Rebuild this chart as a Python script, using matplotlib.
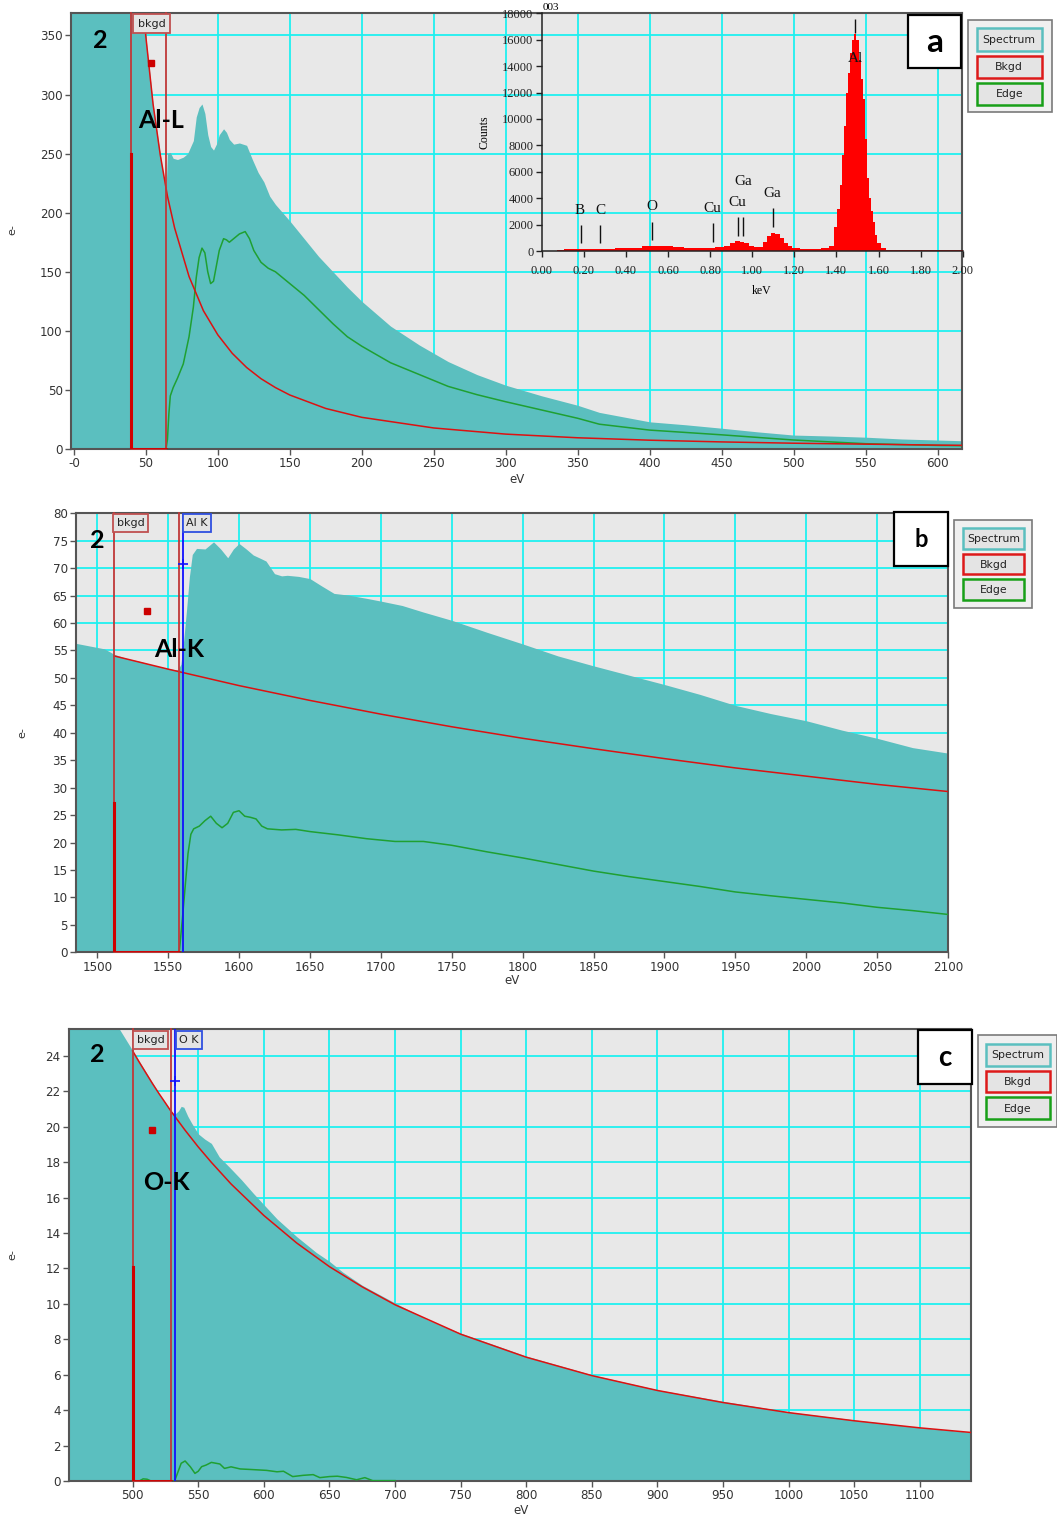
import matplotlib
matplotlib.use("Agg")
import matplotlib.pyplot as plt
from matplotlib.patches import Rectangle

W, H = 1057, 1519

TEAL = "#5bbfbf"
GRID = "#1ff0f0"
BG = "#e8e8e8"
RED = "#dd1111"
WIN_RED = "#c03838"
GREEN = "#1fa032"
BLUE = "#1010ff"

# ---- panel a : Al-L edge ----
A_EV = [-2, 39.5, 40, 45, 50, 55, 60, 64, 65, 67, 69, 72, 76, 79, 83, 85, 87, 89,
        91, 93, 95, 97, 99, 101, 104, 106, 108, 111, 115, 120, 124, 128, 132,
        136, 140, 150, 160, 170, 180, 190, 200, 220, 240, 260, 280, 300, 325,
        350, 365, 400, 425, 450, 475, 500, 525, 550, 575, 600, 617]
A_SPECTRUM = [1000, 1000, 526, 423, 349, 292, 249, 218, 250, 251, 246, 245, 247,
              250, 261, 281, 289, 292, 284, 266, 256, 253, 258, 266, 271, 268,
              262, 258, 259, 257, 245, 234, 226, 214, 207, 193, 178, 163, 150,
              137, 125, 104, 88, 74, 63, 54, 45, 37, 31, 23, 20.5, 17.6, 14.5,
              11.8, 11, 10, 8.5, 7.6, 7]
A_BKGD_EV = [40, 45, 50, 55, 60, 65, 70, 80, 90, 100, 110, 120, 130, 140, 150,
             175, 200, 250, 300, 350, 400, 450, 500, 550, 600, 617]
A_BKGD = [526, 423, 349, 292, 249, 214, 187, 146, 117, 96.6, 81, 69, 59.5, 52,
          45.7, 34.3, 26.8, 17.8, 12.6, 9.5, 7.45, 6.0, 4.9, 4.1, 3.3, 3.1]
A_EDGE_EV = [40, 64, 65, 66, 67, 69, 72, 76, 80, 83, 85, 87, 89, 91, 93, 95, 97,
             99, 101, 104, 106, 108, 111, 115, 119, 122, 125, 130, 135, 140, 150,
             160, 170, 180, 190, 200, 220, 240, 260, 280, 300, 325, 350, 365,
             400, 450, 500, 550, 600, 617]
A_EDGE = [0, 0, 8, 30, 45, 52, 60, 72, 95, 120, 145, 162, 170, 166, 150, 140,
          142, 155, 168, 178, 177, 175, 178, 182, 184, 178, 168, 158, 153, 150,
          140, 130, 118, 106, 95, 87, 73, 63, 53, 46, 40, 33, 26, 21, 16, 12,
          7.6, 4.5, 3, 2.8]
A_WINDOW = (40, 64)
A_WINDOW_MARK = 250
A_BKGD_POINT = (53.5, 327)

# ---- inset EDS spectrum ----
IN_KEV = [0.00, 0.05, 0.10, 0.11, 0.20, 0.30, 0.40, 0.45, 0.50, 0.55, 0.60,
          0.65, 0.70, 0.75, 0.80, 0.85, 0.88, 0.91, 0.93, 0.95, 0.97, 1.00,
          1.02, 1.04, 1.06, 1.08, 1.10, 1.12, 1.14, 1.16, 1.18, 1.20, 1.25,
          1.30, 1.35, 1.38, 1.40, 1.41, 1.42, 1.43, 1.44, 1.45, 1.46, 1.47,
          1.48, 1.49, 1.50, 1.51, 1.52, 1.53, 1.54, 1.55, 1.56, 1.57, 1.58,
          1.59, 1.60, 1.62, 1.65, 1.70, 1.80, 1.90, 2.00]
IN_COUNTS = [30, 30, 40, 120, 150, 170, 200, 260, 370, 390, 350, 290, 260, 240,
             250, 290, 380, 600, 730, 700, 620, 400, 330, 330, 700, 1150, 1390,
             1250, 950, 600, 350, 230, 180, 160, 200, 350, 1800, 3200, 5000,
             7300, 9500, 12000, 13500, 15000, 16000, 16450, 16000, 14500,
             13000, 11500, 8500, 5500, 4000, 3000, 2200, 1200, 600, 200, 100,
             70, 60, 55, 50]
IN_LINES_KEV = [0.185, 0.277, 0.526, 0.812, 0.931, 0.958, 1.10, 1.489]
IN_LINES_LOW = [580, 580, 830, 700, 1140, 1140, 1840, 16485]
IN_LINES_HIGH = [1970, 1970, 2220, 2100, 2600, 2600, 3230, 17600]
IN_LABELS = ["B", "C", "O", "Cu", "Cu", "Ga", "Ga", "Al"]
IN_LABEL_KEV = [0.182, 0.277, 0.522, 0.81, 0.93, 0.958, 1.097, 1.489]
IN_LABEL_COUNTS = [3100, 3100, 3360, 3230, 3690, 5300, 4370, 14590]

# ---- panel b : Al-K edge ----
B_EV = [1485, 1495, 1505, 1512, 1520, 1530, 1540, 1550, 1555, 1557, 1559, 1561,
        1563, 1565, 1567, 1570, 1576, 1582, 1587, 1592, 1596, 1600, 1605, 1610,
        1615, 1619, 1625, 1630, 1634, 1642, 1650, 1658, 1667, 1677, 1690, 1700,
        1715, 1730, 1750, 1775, 1800, 1825, 1850, 1875, 1900, 1925, 1950, 1975,
        2000, 2025, 2050, 2075, 2100]
B_SPECTRUM = [56.3, 55.8, 55.3, 54.3, 53.6, 53.0, 52.3, 51.7, 51.5, 51.5, 52.5,
              57, 62.5, 68.5, 72.5, 73.6, 73.5, 74.8, 73.5, 71.9, 73.5, 74.5,
              73.5, 72.4, 71.8, 71.3, 69.0, 68.6, 68.7, 68.5, 68.1, 66.8, 65.4,
              65.1, 64.5, 64.0, 63.2, 62.0, 60.5, 58.3, 56.2, 54.0, 52.2, 50.5,
              48.8, 47.0, 45.0, 43.5, 42.2, 40.5, 39.0, 37.3, 36.3]
B_BKGD_EV = [1512, 1550, 1600, 1650, 1700, 1750, 1800, 1850, 1900, 1950, 2000,
             2050, 2100]
B_BKGD = [54.0, 51.6, 48.6, 45.9, 43.4, 41.1, 39.0, 37.1, 35.3, 33.6, 32.1,
          30.6, 29.3]
B_EDGE_EV = [1512, 1557, 1558, 1560, 1562, 1564, 1566, 1568, 1572, 1576, 1580,
             1584, 1588, 1592, 1596, 1600, 1604, 1608, 1612, 1616, 1620, 1630,
             1640, 1650, 1670, 1690, 1710, 1730, 1750, 1775, 1800, 1825, 1850,
             1875, 1900, 1925, 1950, 1975, 2000, 2025, 2050, 2075, 2100]
B_EDGE = [0, 0, 0.5, 6, 12, 18, 21.5, 22.5, 23, 24, 24.8, 23.5, 22.7, 23.5, 25.5,
          25.8, 24.8, 24.6, 24.3, 23, 22.5, 22.3, 22.4, 22, 21.4, 20.7, 20.2,
          20.2, 19.5, 18.3, 17.2, 16.0, 14.8, 13.8, 12.9, 12.0, 11.0, 10.3,
          9.65, 9.0, 8.2, 7.6, 6.9]
B_WINDOW = (1511.5, 1557.3)
B_WINDOW_MARK = 27.2
B_EDGE_ONSET = 1560.4
B_ONSET_POINT = 70.8
B_BKGD_POINT = (1535.3, 62.2)

# ---- panel c : O-K edge ----
C_EV = [451.5, 480, 490, 495, 500, 505, 510, 515, 520, 525, 529, 532, 535, 537,
        539, 542, 545, 550, 555, 560, 566, 574, 583, 592, 600, 610, 625, 640,
        650, 660, 675, 700, 725, 750, 800, 850, 900, 950, 1000, 1050, 1100,
        1139]
C_SPECTRUM = [31, 26.8, 25.5, 24.9, 24.3, 23.7, 23.1, 22.5, 21.9, 21.35, 20.9,
              20.7, 20.9, 21.15, 21.1, 20.6, 20.2, 19.6, 19.3, 19.06, 18.3,
              17.7, 17.0, 16.24, 15.6, 14.8, 13.8, 12.9, 12.4, 11.8, 11.05,
              10.05, 9.1, 8.35, 7.05, 6.0, 5.15, 4.5, 3.9, 3.45, 3.02, 2.75]
C_BKGD_EV = [500, 505, 510, 515, 520, 525, 529, 532, 540, 550, 560, 575, 600,
             625, 650, 675, 700, 750, 800, 850, 900, 950, 1000, 1050, 1100, 1139]
C_BKGD = [24.28, 23.65, 23.05, 22.45, 21.88, 21.34, 20.9, 20.6, 19.8, 18.86,
          17.99, 16.77, 14.99, 13.44, 12.1, 10.96, 9.95, 8.29, 6.99, 5.95, 5.11,
          4.43, 3.86, 3.40, 3.0, 2.74]
C_EDGE_EV = [500, 505, 508, 511, 514, 529, 532, 534, 537, 540, 544, 547.5, 550,
             552.6, 556, 560, 566.5, 570, 575, 582, 590, 602, 610, 615, 622, 630,
             637.6, 642.7, 650, 656, 663, 670.7, 677, 683, 700]
C_EDGE = [0, 0, 0.12, 0.1, 0, 0, 0, 0.4, 1.0, 1.13, 0.8, 0.43, 0.55, 0.81, 0.9,
          1.05, 0.96, 0.71, 0.8, 0.68, 0.65, 0.6, 0.52, 0.55, 0.25, 0.32, 0.36,
          0.19, 0.25, 0.27, 0.2, 0.07, 0.19, 0.02, 0.02]
C_WINDOW = (500, 529.2)
C_WINDOW_MARK = 12.1
C_EDGE_ONSET = 532.2
C_ONSET_POINT = 22.6
C_BKGD_POINT = (514.8, 19.8)


def fig_rect(left, top, right, bottom):
    return [left / W, 1 - bottom / H, (right - left) / W, (bottom - top) / H]


def px(x, y):
    return x / W, 1 - y / H


def pixel_box(fig, left, top, right, bottom, fc, ec, lw=1.2, zorder=5):
    fig.add_artist(Rectangle((left / W, 1 - bottom / H), (right - left) / W,
                             (bottom - top) / H, transform=fig.transFigure,
                             facecolor=fc, edgecolor=ec, linewidth=lw,
                             zorder=zorder))


def label_box(fig, left, top, right, bottom, text, ec):
    pixel_box(fig, left, top, right, bottom, "#e4e4e4", ec, lw=1.3)
    fig.text(*px((left + right) / 2, (top + bottom) / 2 + 0.5), text,
             ha="center", va="center", fontsize=8, color="#222222", zorder=6)


def draw_legend(fig, outer, inner_x, rows):
    pixel_box(fig, *outer, "#f0f0f0", "#7a7a7a", lw=1.2)
    for (top, bottom), text, color in zip(rows, ["Spectrum", "Bkgd", "Edge"],
                                          [TEAL, "#dd1a1a", "#18a018"]):
        pixel_box(fig, inner_x[0], top, inner_x[1], bottom, "#e4e4e4", color,
                  lw=1.8, zorder=6)
        fig.text(*px((inner_x[0] + inner_x[1]) / 2, (top + bottom) / 2 + 0.5),
                 text, ha="center", va="center", fontsize=7.8,
                 color="#222222", zorder=7)


def letter_box(fig, left, top, right, bottom, letter, size):
    pixel_box(fig, left, top, right, bottom, "white", "black", lw=1.6)
    fig.text(*px((left + right) / 2, (top + bottom) / 2 + 1), letter,
             ha="center", va="center", fontsize=size, fontweight="bold",
             family="Lato", zorder=6)


def style_axes(ax, xlim, ylim, xticks, yticks, xticklabels=None):
    ax.set_facecolor(BG)
    ax.set_xlim(*xlim)
    ax.set_ylim(*ylim)
    ax.set_xticks(xticks)
    ax.set_yticks(yticks)
    if xticklabels is not None:
        ax.set_xticklabels(xticklabels)
    ax.grid(True, color=GRID, linewidth=1.3)
    ax.set_axisbelow(True)
    for s in ax.spines.values():
        s.set_color("#555555")
        s.set_linewidth(1.5)
    ax.tick_params(direction="out", length=4, width=1, colors="#555555",
                   labelcolor="#333333", labelsize=8.6, pad=2)


def draw_panel(ax, ev, spec, bkgd_ev, bkgd, edge_ev, edge, window, mark,
               bkgd_point, onset=None, onset_point=None):
    top = ax.get_ylim()[1]
    ax.fill_between(ev, 0, spec, color=TEAL, linewidth=0, zorder=1)
    ax.plot(edge_ev, edge, color=GREEN, lw=1.1, zorder=3)
    ax.plot(bkgd_ev, bkgd, color=RED, lw=1.1, zorder=3)
    ax.plot([window[0], window[0], window[1], window[1]], [top, 0, 0, top],
            color=WIN_RED, lw=1.3, zorder=4, clip_on=False)
    ax.plot([window[0], window[0]], [0, mark], color="#d00000", lw=2.2,
            zorder=4)
    ax.plot([window[0], window[1]], [0, 0], color="#d00000", lw=2.0, zorder=4)
    ax.plot(*bkgd_point, "s", color="#cc0000", ms=5, zorder=5)
    if onset is not None:
        ax.axvline(onset, color=BLUE, lw=1.3, zorder=4)
        ax.plot(onset, onset_point, "+", color=BLUE, ms=7, mew=1.2, zorder=5)


def main():
    plt.rcParams["font.family"] = ["DejaVu Sans"]
    fig = plt.figure(figsize=(W / 100, H / 100), dpi=100)

    # panel a
    ax_a = fig.add_axes(fig_rect(71, 13, 962, 449))
    style_axes(ax_a, (-2, 617), (0, 369), range(0, 601, 50), range(0, 351, 50),
               ["-0"] + [str(v) for v in range(50, 601, 50)])
    draw_panel(ax_a, A_EV, A_SPECTRUM, A_BKGD_EV, A_BKGD, A_EDGE_EV, A_EDGE,
               A_WINDOW, A_WINDOW_MARK, A_BKGD_POINT)

    # inset EDS
    ax_in = fig.add_axes(fig_rect(541.7, 13.3, 962.7, 251))
    ax_in.set_facecolor("none")
    ax_in.fill_between(IN_KEV, 0, IN_COUNTS, color="#ff0000", linewidth=0,
                       step="mid")
    ax_in.vlines(IN_LINES_KEV, IN_LINES_LOW, IN_LINES_HIGH, color="#111111",
                 lw=1.0)
    for k, c, t in zip(IN_LABEL_KEV, IN_LABEL_COUNTS, IN_LABELS):
        ax_in.text(k, c, t, ha="center", va="center", fontsize=11,
                   family="Liberation Serif", color="#111111")
    ax_in.set_xlim(0, 2)
    ax_in.set_ylim(0, 18000)
    ax_in.set_xticks([i * 0.2 for i in range(11)])
    ax_in.set_xticklabels([f"{i * 0.2:.2f}" for i in range(11)])
    ax_in.set_yticks(range(0, 18001, 2000))
    for s in ["top", "right"]:
        ax_in.spines[s].set_visible(False)
    for s in ["left", "bottom"]:
        ax_in.spines[s].set_color("#222222")
        ax_in.spines[s].set_linewidth(1.1)
    ax_in.tick_params(direction="out", length=4, width=1, colors="#222222",
                      labelsize=9, pad=2)
    ax_in.tick_params(axis="x", pad=6)
    for lab in ax_in.get_xticklabels() + ax_in.get_yticklabels():
        lab.set_family("Liberation Serif")
    fig.text(*px(484, 132), "Counts", rotation=90, ha="center", va="center",
             fontsize=8.5, family="Liberation Serif")
    fig.text(*px(762, 291), "keV", ha="center", va="center", fontsize=8.5,
             family="Liberation Serif")
    fig.text(*px(551, 7), "003", ha="center", va="center", fontsize=8,
             family="Liberation Serif")

    # panel b
    ax_b = fig.add_axes(fig_rect(76, 513.3, 948, 952.3))
    style_axes(ax_b, (1485, 2100), (0, 80), range(1500, 2101, 50),
               range(0, 81, 5))
    draw_panel(ax_b, B_EV, B_SPECTRUM, B_BKGD_EV, B_BKGD, B_EDGE_EV, B_EDGE,
               B_WINDOW, B_WINDOW_MARK, B_BKGD_POINT, B_EDGE_ONSET,
               B_ONSET_POINT)

    # panel c
    ax_c = fig.add_axes(fig_rect(69, 1029.3, 971, 1481))
    style_axes(ax_c, (451.5, 1139), (0, 25.5), range(500, 1101, 50),
               range(0, 25, 2))
    draw_panel(ax_c, C_EV, C_SPECTRUM, C_BKGD_EV, C_BKGD, C_EDGE_EV, C_EDGE,
               C_WINDOW, C_WINDOW_MARK, C_BKGD_POINT, C_EDGE_ONSET,
               C_ONSET_POINT)

    # axis titles
    for (x, y) in [(12, 230), (22, 733), (12, 1255)]:
        fig.text(*px(x, y), "e-", rotation=90, ha="center", va="center",
                 fontsize=8, color="#333333")
    for (x, y) in [(517, 479), (512, 981), (521, 1510)]:
        fig.text(*px(x, y), "eV", ha="center", va="center", fontsize=8.5,
                 color="#333333")

    # window labels
    label_box(fig, 133, 14, 170, 33, "bkgd", "#c05050")
    label_box(fig, 113.3, 514.3, 148.3, 531.7, "bkgd", "#c05050")
    label_box(fig, 182.7, 514.3, 210.7, 531.7, "Al K", "#3050e0")
    label_box(fig, 132.7, 1030.7, 168.3, 1049, "bkgd", "#c05050")
    label_box(fig, 175.7, 1030.7, 201.7, 1049, "O K", "#3050e0")

    # big annotations
    for (x, y, t) in [(100, 40, "2"), (161, 120, "Al-L"), (97, 540, "2"),
                      (179, 650, "Al-K"), (97, 1055, "2"), (166, 1183, "O-K")]:
        fig.text(*px(x, y), t, ha="center", va="center", fontsize=18,
                 fontweight="bold", family="Lato", zorder=6)

    letter_box(fig, 907.7, 15, 961, 68.3, "a", 24)
    letter_box(fig, 894.3, 511.7, 948.3, 565.7, "b", 17)
    letter_box(fig, 918.3, 1030, 971.7, 1084, "c", 20)

    draw_legend(fig, (968.3, 20, 1051.7, 112.3), (976.7, 1041.7),
                [(28.3, 50.7), (55.7, 77.7), (82.7, 105)])
    draw_legend(fig, (954, 520, 1032, 607.7), (962.7, 1024),
                [(527.7, 549), (554, 574.3), (579, 600)])
    draw_legend(fig, (978.3, 1035, 1057, 1126.7), (986, 1050),
                [(1044.3, 1065.7), (1071, 1092.3), (1097.3, 1119)])

    fig.savefig("out.png", dpi=100)
    plt.close(fig)


if __name__ == "__main__":
    main()
